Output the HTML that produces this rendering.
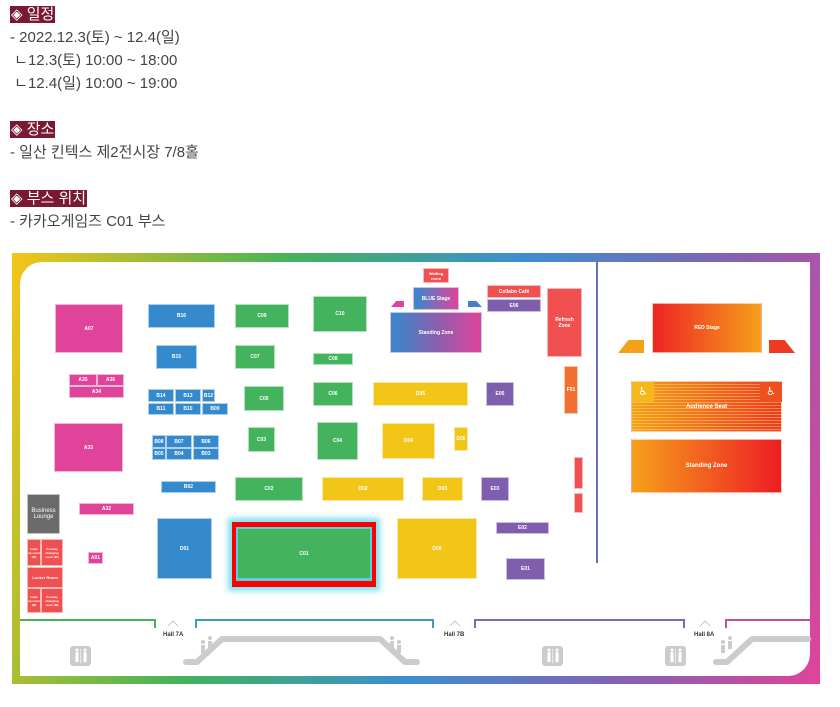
<!DOCTYPE html>
<html><head><meta charset="utf-8"><style>
body{margin:0;width:840px;height:707px;background:#fff;position:relative;overflow:hidden;font-family:"Liberation Sans","Noto Sans CJK KR",sans-serif}
.t{position:absolute;left:10px;font-size:15px;color:#444;line-height:18px;white-space:nowrap}
.h{background:#7a1a32;color:#fff;padding:0 1px}
.b{position:absolute;color:#fff;font:bold 5px "Liberation Sans",sans-serif;display:flex;align-items:center;justify-content:center;text-align:center;box-sizing:border-box;border:0.5px solid rgba(255,255,255,.6)}
.p{background:#e0449a}.bl{background:#3589cd}.g{background:#43b35e}.y{background:#f2c617}.pu{background:#7f5fad}.r{background:#f0504f}
</style></head><body>
<div class="t" style="top:6px"><span class="h">◈ 일정</span></div>
<div class="t" style="top:29px">- 2022.12.3(토) ~ 12.4(일)</div>
<div class="t" style="top:52px">&nbsp;ㄴ12.3(토) 10:00 ~ 18:00</div>
<div class="t" style="top:75px">&nbsp;ㄴ12.4(일) 10:00 ~ 19:00</div>
<div class="t" style="top:121px"><span class="h">◈ 장소</span></div>
<div class="t" style="top:144px">- 일산 킨텍스 제2전시장 7/8홀</div>
<div class="t" style="top:190px"><span class="h">◈ 부스 위치</span></div>
<div class="t" style="top:213px">- 카카오게임즈 C01 부스</div>

<div style="position:absolute;left:12px;top:253px;width:808px;height:431px;background:linear-gradient(105deg,#f5c518 0%,#45b358 30%,#3b8fd0 55%,#8a5fb0 80%,#e0449a 100%)"></div>
<div style="position:absolute;left:20px;top:262px;width:790px;height:414px;background:#fff;border-radius:22px 0 22px 0"></div>

<div style="position:absolute;left:596px;top:262px;width:2px;height:301px;background:#6a6fb5"></div>

<div class="b p" style="left:55px;top:304px;width:68px;height:49px">A07</div>
<div class="b p" style="left:69px;top:374px;width:28px;height:12px">A35</div>
<div class="b p" style="left:97px;top:374px;width:27px;height:12px">A36</div>
<div class="b p" style="left:69px;top:386px;width:55px;height:12px">A34</div>
<div class="b p" style="left:54px;top:423px;width:69px;height:49px">A33</div>
<div class="b p" style="left:79px;top:503px;width:55px;height:12px">A32</div>
<div class="b p" style="left:88px;top:552px;width:15px;height:12px">A01</div>

<div class="b bl" style="left:148px;top:304px;width:67px;height:24px">B16</div>
<div class="b bl" style="left:156px;top:345px;width:41px;height:24px">B15</div>
<div class="b bl" style="left:148px;top:389px;width:26px;height:13px">B14</div>
<div class="b bl" style="left:175px;top:389px;width:26px;height:13px">B13</div>
<div class="b bl" style="left:202px;top:389px;width:13px;height:13px">B12</div>
<div class="b bl" style="left:148px;top:403px;width:26px;height:12px">B11</div>
<div class="b bl" style="left:175px;top:403px;width:26px;height:12px">B10</div>
<div class="b bl" style="left:202px;top:403px;width:26px;height:12px">B09</div>
<div class="b bl" style="left:152px;top:435px;width:14px;height:13px">B08</div>
<div class="b bl" style="left:166px;top:435px;width:26px;height:13px">B07</div>
<div class="b bl" style="left:193px;top:435px;width:26px;height:13px">B06</div>
<div class="b bl" style="left:152px;top:448px;width:14px;height:12px">B05</div>
<div class="b bl" style="left:166px;top:448px;width:26px;height:12px">B04</div>
<div class="b bl" style="left:193px;top:448px;width:26px;height:12px">B03</div>
<div class="b bl" style="left:161px;top:481px;width:55px;height:12px">B02</div>
<div class="b bl" style="left:157px;top:518px;width:55px;height:61px">D01</div>

<div class="b g" style="left:235px;top:304px;width:54px;height:24px">C09</div>
<div class="b g" style="left:313px;top:296px;width:54px;height:36px">C10</div>
<div class="b g" style="left:235px;top:345px;width:40px;height:24px">C07</div>
<div class="b g" style="left:313px;top:353px;width:40px;height:12px">C08</div>
<div class="b g" style="left:244px;top:386px;width:40px;height:25px">C05</div>
<div class="b g" style="left:313px;top:382px;width:40px;height:24px">C06</div>
<div class="b g" style="left:248px;top:427px;width:27px;height:25px">C03</div>
<div class="b g" style="left:317px;top:422px;width:41px;height:38px">C04</div>
<div class="b g" style="left:235px;top:477px;width:68px;height:24px">C02</div>

<div style="position:absolute;left:228px;top:518px;width:152px;height:73px;background:#7fe0f0;filter:blur(3px)"></div>
<div style="position:absolute;left:232px;top:522px;width:144px;height:65px;background:#f00"></div>
<div style="position:absolute;left:236px;top:527px;width:136px;height:54px;background:#5ad0e0"></div>
<div class="b g" style="left:238px;top:529px;width:132px;height:49px;border:none">C01</div>

<div class="b y" style="left:373px;top:382px;width:95px;height:24px">D06</div>
<div class="b y" style="left:382px;top:423px;width:53px;height:36px">D04</div>
<div class="b y" style="left:454px;top:427px;width:14px;height:24px">D05</div>
<div class="b y" style="left:322px;top:477px;width:82px;height:24px">D02</div>
<div class="b y" style="left:422px;top:477px;width:41px;height:24px">D03</div>
<div class="b y" style="left:397px;top:518px;width:80px;height:61px">D00</div>

<div class="b pu" style="left:486px;top:382px;width:28px;height:24px">E05</div>
<div class="b pu" style="left:481px;top:477px;width:28px;height:24px">E03</div>
<div class="b pu" style="left:496px;top:522px;width:53px;height:12px">E02</div>
<div class="b pu" style="left:506px;top:558px;width:39px;height:22px">E01</div>
<div class="b pu" style="left:487px;top:299px;width:54px;height:13px">E06</div>
<div class="b r" style="left:487px;top:285px;width:54px;height:13px">Collabo Café</div>
<div class="b r" style="left:423px;top:268px;width:26px;height:15px;font-size:4px">Waiting room</div>
<div class="b r" style="left:547px;top:288px;width:35px;height:69px">Refresh<br>Zone</div>
<div class="b" style="left:564px;top:366px;width:14px;height:48px;background:#f07030">F01</div>
<div class="b r" style="left:574px;top:457px;width:9px;height:32px;font-size:3px"></div>
<div class="b r" style="left:574px;top:493px;width:9px;height:20px;font-size:3px"></div>

<div class="b" style="left:413px;top:287px;width:46px;height:23px;background:linear-gradient(90deg,#3589cd,#e0449a)">BLUE Stage</div>
<div class="b" style="left:390px;top:312px;width:92px;height:41px;background:linear-gradient(90deg,#3589cd,#8a5fb0 50%,#e0449a)">Standing Zone</div>
<div style="position:absolute;left:391px;top:301px;width:13px;height:6px;background:#e0449a;clip-path:polygon(40% 0,100% 0,100% 100%,0 100%)"></div>
<div style="position:absolute;left:468px;top:301px;width:14px;height:6px;background:#4a7fc8;clip-path:polygon(0 0,60% 0,100% 100%,0 100%)"></div>

<div class="b" style="left:652px;top:303px;width:110px;height:50px;background:linear-gradient(90deg,#ee2424,#f5a01a)">RED Stage</div>
<div style="position:absolute;left:618px;top:340px;width:26px;height:13px;background:#f5a01a;clip-path:polygon(40% 0,100% 0,100% 100%,0 100%)"></div>
<div style="position:absolute;left:769px;top:340px;width:26px;height:13px;background:#ee3a25;clip-path:polygon(0 0,60% 0,100% 100%,0 100%)"></div>
<div class="b" style="left:631px;top:381px;width:151px;height:51px;background:repeating-linear-gradient(180deg,rgba(255,255,255,0) 0 2px,rgba(255,230,120,.45) 2px 3px),linear-gradient(90deg,#f5a01a,#ee3a25);font-size:6px">Audience Seat</div>
<div style="position:absolute;left:632px;top:382px;width:22px;height:20px;background:#f5b81a;color:#fff;font:bold 11px 'DejaVu Sans';text-align:center;line-height:20px">♿&#xFE0E;</div>
<div style="position:absolute;left:760px;top:382px;width:22px;height:20px;background:#f05020;color:#fff;font:bold 11px 'DejaVu Sans';text-align:center;line-height:20px">♿&#xFE0E;</div>
<div class="b" style="left:631px;top:439px;width:151px;height:54px;background:linear-gradient(90deg,#f5a01a,#ee1c25);font-size:6px">Standing Zone</div>

<div class="b" style="left:27px;top:494px;width:33px;height:40px;background:#6b6b6b;font-size:6px;font-weight:normal">Business Lounge</div>
<div class="b r" style="left:27px;top:539px;width:14px;height:27px;font-size:3px">make up room (W)</div>
<div class="b r" style="left:41px;top:539px;width:22px;height:27px;font-size:3px">Cosplay changing room (W)</div>
<div class="b r" style="left:27px;top:567px;width:36px;height:21px;font-size:4px">Locker Room</div>
<div class="b r" style="left:27px;top:588px;width:14px;height:25px;font-size:3px">make up room (M)</div>
<div class="b r" style="left:41px;top:588px;width:22px;height:25px;font-size:3px">Cosplay changing room (M)</div>

<svg style="position:absolute;left:0;top:0" width="840" height="707">
<g fill="none" stroke-width="2">
<polyline points="20,620 155,620 155,628" stroke="#45b358"/>
<polyline points="196,628 196,620 433,620 433,628" stroke="#3b9fb0"/>
<polyline points="475,628 475,620 684,620 684,628" stroke="#7a6ab8"/>
<polyline points="726,628 726,620 810,620" stroke="#c0509c"/>
</g>
<g fill="none" stroke="#bbb" stroke-width="0.8">
<polyline points="168,626 173,621 178,626"/><polyline points="450,626 455,621 460,626"/><polyline points="700,626 705,621 710,626"/>
</g>
<g font-family="Liberation Sans" font-weight="bold" font-size="6" fill="#333">
<text x="163" y="636">Hall 7A</text><text x="444" y="636">Hall 7B</text><text x="694" y="636">Hall 8A</text>
</g>
<g fill="none" stroke="#ccc" stroke-width="6" stroke-linecap="round" stroke-linejoin="round">
<polyline points="186,662 197,662 222,639 380,639 405,662 417,662"/>
<polyline points="716,662 727,662 752,639 808,639"/>
</g>
<g fill="#ccc">
<circle cx="203" cy="642" r="2"/><rect x="201" y="645" width="4" height="8"/><circle cx="210" cy="638" r="2"/><rect x="208" y="641" width="4" height="8"/>
<circle cx="392" cy="638" r="2"/><rect x="390" y="641" width="4" height="8"/><circle cx="399" cy="642" r="2"/><rect x="397" y="645" width="4" height="8"/>
<circle cx="723" cy="642" r="2"/><rect x="721" y="645" width="4" height="8"/><circle cx="730" cy="638" r="2"/><rect x="728" y="641" width="4" height="8"/>
<rect x="70" y="646" width="21" height="20" rx="3"/><rect x="542" y="646" width="21" height="20" rx="3"/><rect x="665" y="646" width="21" height="20" rx="3"/>
</g>
<g fill="#fff">
<circle cx="77" cy="650" r="1.5"/><rect x="75.5" y="652" width="3" height="10"/><circle cx="85" cy="650" r="1.5"/><rect x="83.5" y="652" width="3" height="10"/><rect x="80.3" y="649" width="0.6" height="14"/>
<circle cx="549" cy="650" r="1.5"/><rect x="547.5" y="652" width="3" height="10"/><circle cx="557" cy="650" r="1.5"/><rect x="555.5" y="652" width="3" height="10"/><rect x="552.3" y="649" width="0.6" height="14"/>
<circle cx="672" cy="650" r="1.5"/><rect x="670.5" y="652" width="3" height="10"/><circle cx="680" cy="650" r="1.5"/><rect x="678.5" y="652" width="3" height="10"/><rect x="675.3" y="649" width="0.6" height="14"/>
</g>
</svg>
</body></html>
